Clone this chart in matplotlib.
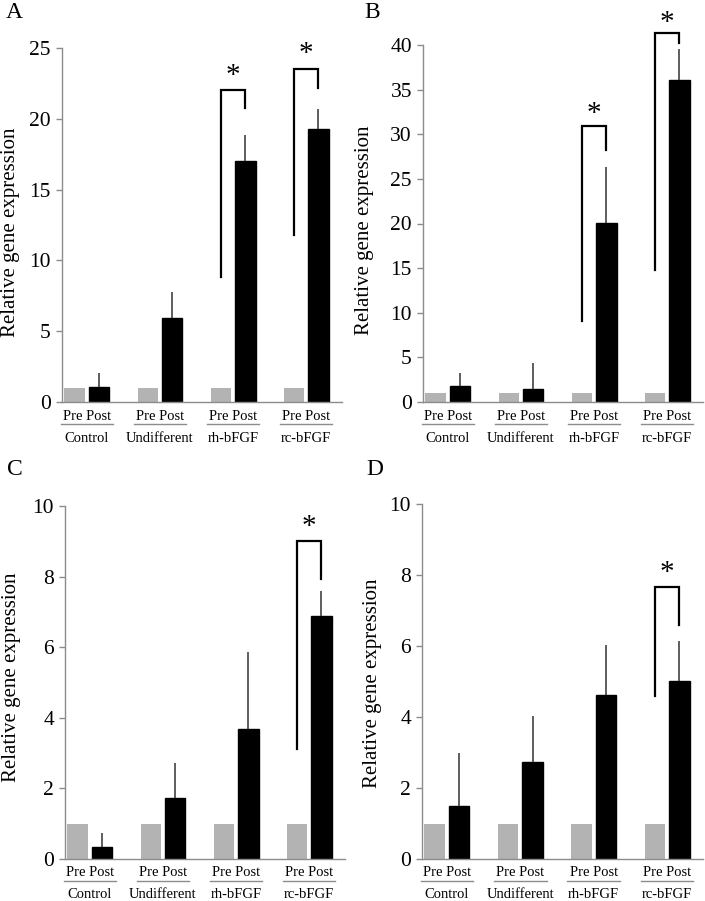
import matplotlib
matplotlib.use("Agg")
import matplotlib.pyplot as plt
import numpy as np

plt.rcParams['font.family'] = ['Liberation Serif', 'DejaVu Serif']

groups = ['Control', 'Undifferent', 'rh-bFGF', 'rc-bFGF']
pre_vals = [1, 1, 1, 1]

# panel A
post_a = [1.06, 5.9, 17.0, 19.25]
err_a = [0.98, 1.9, 1.85, 1.45]
# panel B
post_b = [1.8, 1.46, 20.1, 36.1]
err_b = [1.4, 2.9, 6.25, 3.45]
# panel C
post_c = [0.33, 1.74, 3.67, 6.89]
err_c = [0.4, 0.97, 2.18, 0.69]
# panel D
post_d = [1.49, 2.72, 4.61, 5.02]
err_d = [1.49, 1.32, 1.42, 1.12]

# significance brackets: (group, left bottom, right bottom, top, star y)
brk_a = [(2, 8.8, 20.75, 22.05, 23.0), (3, 11.8, 22.2, 23.5, 24.6)]
brk_b = [(2, 9.1, 28.2, 30.9, 32.3), (3, 14.8, 40.2, 41.3, 42.5)]
brk_c = [(3, 3.13, 7.92, 9.0, 9.4)]
brk_d = [(3, 4.6, 6.6, 7.67, 8.05)]

W, H = 705, 901
fig = plt.figure(figsize=(W / 100, H / 100), dpi=100)

bar_w = 0.28
off = 0.167
pre_color = '#b3b3b3'
axis_color = '#8c8c8c'


def px_rect(l, t, r, b):
    return [l / W, 1 - b / H, (r - l) / W, (b - t) / H]


def draw_panel(rect, post, err, ymax, ystep, brackets, letter, letter_xy, ylab_xy):
    ax = fig.add_axes(px_rect(*rect))
    x = np.arange(len(groups))
    ax.bar(x - off, pre_vals, width=bar_w, color=pre_color, edgecolor='none')
    ax.bar(x + off, post, width=bar_w, color='black', edgecolor='black')
    ax.errorbar(x + off, post, yerr=[np.zeros(len(err)), err], fmt='none',
                ecolor='#333333', elinewidth=1.1, capsize=0)
    ax.set_xlim(-0.34, 3.49)
    ax.set_ylim(0, ymax)
    ax.set_yticks(np.arange(0, ymax + 0.01, ystep))
    ax.set_xticks([])
    for s in ['top', 'right']:
        ax.spines[s].set_visible(False)
    for s in ['left', 'bottom']:
        ax.spines[s].set_color(axis_color)
        ax.spines[s].set_linewidth(1.0)
    ax.tick_params(axis='y', direction='out', length=4, width=1.0, color=axis_color,
                   labelsize=15.5, pad=4)

    # significance brackets
    for g, lb, rb, top, sy in brackets:
        xl, xr = g - off, g + off
        ax.plot([xl, xl, xr, xr], [lb, top, top, rb], color='black', lw=1.6,
                clip_on=False, solid_joinstyle='miter')
        ax.text(g, sy, '*', ha='center', va='center', fontsize=21, clip_on=False)

    # group labels under the axis
    h_px = rect[3] - rect[1]
    for i, name in enumerate(groups):
        ax.text(i, -14 / h_px, 'Pre Post', ha='center', va='center', fontsize=10.5,
                transform=ax.get_xaxis_transform())
        ax.plot([i - 0.36, i + 0.36], [-22 / h_px, -22 / h_px], color=axis_color,
                lw=1.0, transform=ax.get_xaxis_transform(), clip_on=False)
        ax.text(i, -36 / h_px, name, ha='center', va='center', fontsize=10.5,
                transform=ax.get_xaxis_transform())

    fig.text(letter_xy[0] / W, 1 - letter_xy[1] / H, letter, fontsize=17,
             ha='left', va='baseline')
    fig.text(ylab_xy[0] / W, 1 - ylab_xy[1] / H, 'Relative gene expression',
             rotation=90, ha='center', va='center', fontsize=15)
    return ax


draw_panel((62, 48, 342, 402), post_a, err_a, 25, 5, brk_a, 'A', (6, 18), (11, 232))
draw_panel((423, 45, 703, 402), post_b, err_b, 40, 5, brk_b, 'B', (364, 18), (365, 230))
draw_panel((65, 506, 345, 859), post_c, err_c, 10, 2, brk_c, 'C', (7, 475), (12, 677))
draw_panel((422, 504, 703, 859), post_d, err_d, 10, 2, brk_d, 'D', (366, 475), (373, 683))

plt.savefig('out.png', dpi=100)
